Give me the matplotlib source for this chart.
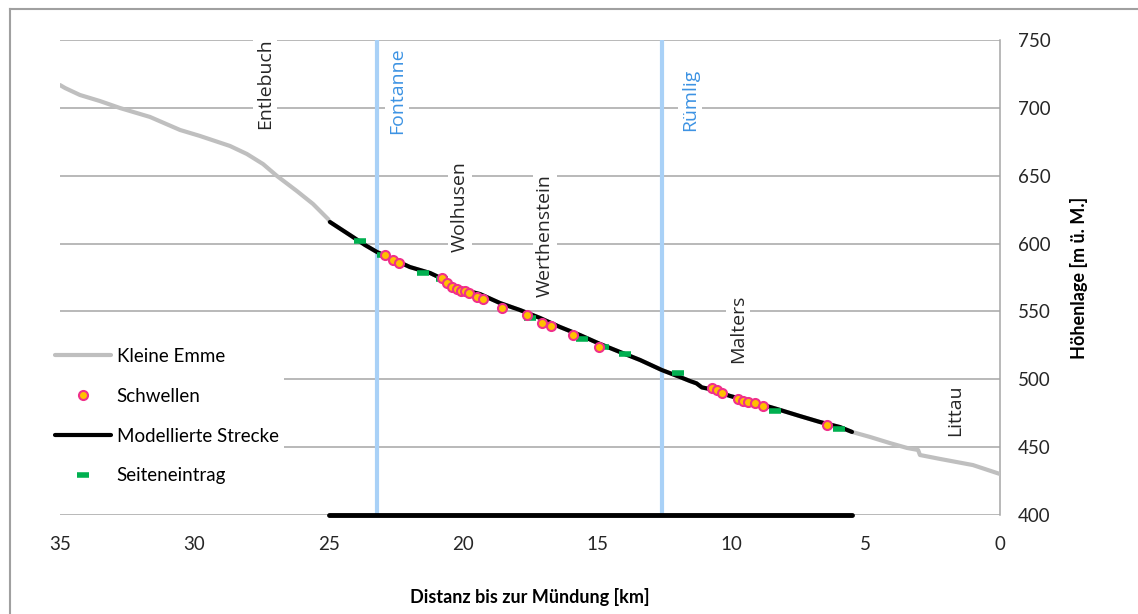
import numpy as np
import matplotlib
matplotlib.use("Agg")
import matplotlib.pyplot as plt
from matplotlib.lines import Line2D

# -----------------------------
# Data
# -----------------------------
# Kleine Emme, upstream part (km, m a.s.l.)
emme_up_km = [35.0, 34.81, 34.26, 33.51, 32.77, 31.65, 30.53, 29.79, 28.67,
              28.04, 27.44, 26.92, 26.18, 25.58, 25.02]
emme_up_h = [716.8, 714.6, 709.5, 705.0, 699.9, 693.3, 683.7, 679.3, 671.9,
             666.0, 658.6, 649.8, 638.7, 629.2, 618.1]

# modelled reach
model_km = [24.95, 24.09, 23.64, 23.20, 22.71, 21.97, 21.22, 20.66, 20.11,
            19.36, 18.62, 17.87, 17.13, 16.38, 15.64, 14.89, 14.15, 13.40,
            12.59, 11.92, 11.54, 11.30, 11.10, 10.80, 10.05, 8.94, 8.19,
            7.45, 6.70, 5.96, 5.51]
model_h = [615.9, 604.8, 598.9, 593.8, 589.4, 582.7, 578.3, 573.1, 566.5,
           562.8, 556.2, 551.0, 545.2, 538.5, 532.6, 526.0, 520.1, 514.2,
           506.8, 501.7, 498.7, 497.0, 494.0, 492.8, 487.7, 481.8, 477.4,
           472.9, 468.5, 464.8, 461.2]

# Kleine Emme, downstream part
emme_down_km = [4.84, 4.10, 3.46, 3.05, 2.98, 2.23, 1.01, 0.0]
emme_down_h = [457.5, 453.0, 449.4, 447.9, 444.2, 441.3, 436.8, 430.2]

# Schwellen (weirs)
schw_km = [22.90, 22.60, 22.38, 20.78, 20.59, 20.40, 20.22, 20.07, 19.92,
           19.77, 19.47, 19.25, 18.54, 17.61, 17.05, 16.72, 15.90, 14.93,
           10.72, 10.54, 10.35, 9.76, 9.57, 9.38, 9.12, 8.82, 6.44]
schw_h = [591.6, 587.9, 585.7, 574.6, 570.9, 568.0, 566.5, 565.0, 565.0,
          563.6, 560.6, 559.2, 552.5, 547.4, 541.5, 539.3, 532.6, 523.8,
          493.6, 492.1, 489.9, 485.5, 484.0, 483.2, 482.5, 480.3, 466.3]

# Seiteneintrag (side inflows)
seite_km = [23.83, 22.97, 21.48, 20.78, 17.50, 15.56, 14.78, 13.96, 11.99,
            8.38, 5.99]
seite_h = [601.9, 591.6, 578.3, 573.9, 545.2, 529.7, 523.8, 518.6, 504.6,
           476.6, 463.4]

# modelled reach bar on the bottom
reach_km = [25.0, 5.5]
reach_h = [400, 400]

# gauging stations
stations = ["Fontanne", "Rümlig"]
station_km = [23.2, 12.6]
station_label_km = [22.45, 11.54]
station_label_h = [713, 706]

# place names
places = ["Entlebuch", "Wolhusen", "Werthenstein", "Malters", "Littau"]
place_km = [27.37, 20.1, 16.94, 9.76, 1.68]
place_h = [717.6, 627, 606, 537, 477]

x_ticks = [35, 30, 25, 20, 15, 10, 5, 0]
y_ticks = [400, 450, 500, 550, 600, 650, 700, 750]

# -----------------------------
# Plot
# -----------------------------
plt.rcParams["font.family"] = ["Lato", "DejaVu Sans"]

fig = plt.figure(figsize=(11.38, 6.14), dpi=100)
ax = fig.add_axes([60 / 1138, 1 - 515 / 614, 940 / 1138, 475 / 614])

grid_c = "#a6a6a6"
for y in y_ticks:
    ax.axhline(y, color=grid_c, lw=1.1, zorder=0)

for km in station_km:
    ax.axvline(km, color="#a9d1f7", lw=3, zorder=2)

emme_km = emme_up_km + model_km + emme_down_km
emme_h = emme_up_h + model_h + emme_down_h
l_emme, = ax.plot(emme_km, emme_h, color="#bfbfbf", lw=3, zorder=3,
                  solid_capstyle="round", label="Kleine Emme")
l_model, = ax.plot(model_km, model_h, color="black", lw=3, zorder=4,
                   solid_capstyle="round", label="Modellierte Strecke")
ax.plot(reach_km, reach_h, color="black", lw=3.5, zorder=4,
        solid_capstyle="round", clip_on=False)
l_seite, = ax.plot(seite_km, seite_h, ls="none", marker="_", ms=9, mew=4,
                   color="#00b050", zorder=5, label="Seiteneintrag")
l_schw, = ax.plot(schw_km, schw_h, ls="none", marker="o", ms=6.5, mew=1.5,
                  mfc="#ffc000", mec="#f0308a", zorder=6, label="Schwellen")

box = dict(facecolor="white", edgecolor="none", pad=2)
for name, km, h in zip(places, place_km, place_h):
    ax.text(km, h, name, rotation=90, ha="center", va="center",
            fontsize=14, family="Open Sans", color="#262626",
            bbox=box, zorder=1)
for name, km, h in zip(stations, station_label_km, station_label_h):
    ax.text(km, h, name, rotation=90, ha="center", va="center",
            fontsize=14, family="Open Sans", color="#3d93e3",
            bbox=box, zorder=1)

ax.set_xlim(35, 0)
ax.set_ylim(400, 750)
ax.set_xticks(x_ticks)
ax.set_yticks(y_ticks)
ax.yaxis.tick_right()
ax.yaxis.set_label_position("right")
ax.tick_params(axis="both", length=0, labelsize=13.5, colors="#262626")
ax.tick_params(axis="x", pad=15)
ax.tick_params(axis="y", pad=13)

for s in ["top", "left", "bottom"]:
    ax.spines[s].set_visible(False)
ax.spines["right"].set_color(grid_c)
ax.spines["right"].set_linewidth(1.1)

ax.set_xlabel("Distanz bis zur Mündung [km]", fontsize=13,
              fontweight="bold", labelpad=25)
ax.set_ylabel("Höhenlage [m ü. M.]", fontsize=13, fontweight="bold",
              labelpad=14)

leg = fig.legend(handles=[l_emme, l_schw, l_model, l_seite],
                 loc="upper left", bbox_to_anchor=(0.035, 0.458),
                 frameon=True, fontsize=13.5, numpoints=1,
                 handlelength=3.0, handletextpad=0.3, labelspacing=1.22,
                 borderpad=0.3, fancybox=False)
leg.get_frame().set_edgecolor("none")
leg.get_frame().set_facecolor("white")
leg.get_frame().set_alpha(1)

# outer frame (left and top)
fig.add_artist(Line2D([10 / 1138, 10 / 1138], [0, 1 - 9 / 614],
                      color="#a0a0a0", lw=1.5))
fig.add_artist(Line2D([10 / 1138, 1], [1 - 9 / 614, 1 - 9 / 614],
                      color="#a0a0a0", lw=1.5))

fig.savefig("out.png", dpi=100)
